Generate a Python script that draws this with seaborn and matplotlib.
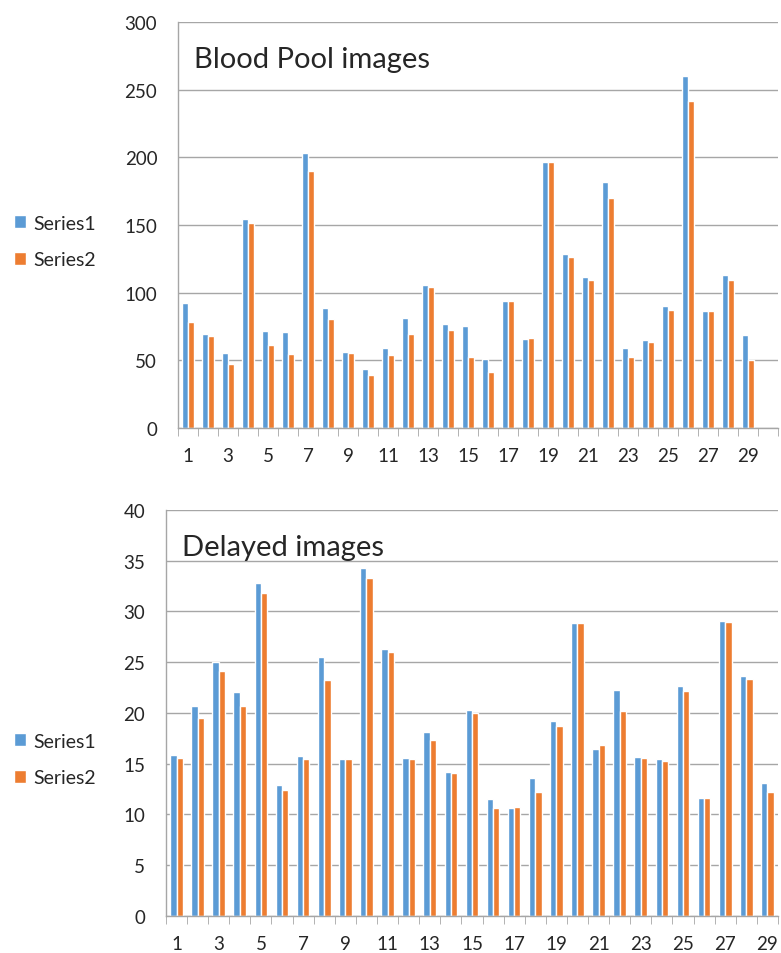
import numpy as np
import pandas as pd
import matplotlib
matplotlib.use("Agg")
import matplotlib.pyplot as plt
import seaborn as sns

sns.set_style("white")
plt.rcParams['font.family'] = ['Lato', 'DejaVu Sans']

# Blood Pool images (30 slots, last one empty)
blood_cats = list(range(1, 31))
blood_s1 = [92.2, 69.8, 55.2, 154.5, 71.5, 70.7, 203.4, 88.7, 56.2, 43.4,
            59.2, 81.6, 105.7, 76.9, 75.2, 51.0, 93.7, 65.8, 196.2, 128.9,
            111.4, 181.9, 59.2, 64.8, 90.5, 260.3, 86.5, 112.9, 68.8]
blood_s2 = [78.6, 68.0, 47.3, 151.6, 61.6, 54.5, 190.0, 80.8, 55.5, 39.2,
            53.7, 69.8, 104.3, 72.2, 52.7, 41.7, 93.7, 66.5, 196.2, 126.4,
            109.7, 169.8, 52.3, 63.3, 87.3, 241.3, 86.5, 109.7, 50.3]

# Delayed images (29 slots)
delayed_cats = list(range(1, 30))
delayed_s1 = [15.9, 20.7, 25.0, 22.1, 32.8, 12.9, 15.8, 25.5, 15.5, 34.3,
              26.3, 15.6, 18.1, 14.2, 20.3, 11.5, 10.6, 13.6, 19.2, 28.9,
              16.5, 22.3, 15.7, 15.5, 22.7, 11.6, 29.1, 23.6, 13.1]
delayed_s2 = [15.6, 19.5, 24.1, 20.7, 31.8, 12.4, 15.5, 23.2, 15.5, 33.3,
              26.0, 15.5, 17.3, 14.1, 20.0, 10.6, 10.7, 12.2, 18.7, 28.9,
              16.8, 20.2, 15.6, 15.3, 22.2, 11.6, 29.0, 23.3, 12.2]

colors = {"Series1": "#5B9BD5", "Series2": "#ED7D31"}
grid_c = "#A6A6A6"


def long_df(cats, s1, s2):
    n = len(s1)
    return pd.DataFrame({
        "cat": [str(c) for c in cats[:n]] * 2,
        "value": s1 + s2,
        "series": ["Series1"] * n + ["Series2"] * n,
    })


def draw(ax, cats, s1, s2, ymax, ystep, title, leg_y):
    df = long_df(cats, s1, s2)
    order = [str(c) for c in cats]
    sns.barplot(data=df, x="cat", y="value", hue="series", order=order,
                palette=colors, width=0.6, saturation=1, ax=ax, legend=True)
    ncat = len(cats)
    ax.set_xlim(-0.5, ncat - 0.5)
    ax.set_ylim(0, ymax)
    ax.set_yticks(np.arange(0, ymax + 1, ystep))
    ax.yaxis.grid(True, color=grid_c, lw=1)
    ax.set_axisbelow(True)
    ax.set_xticks(range(0, 29, 2))
    ax.set_xticklabels([str(c) for c in range(1, 30, 2)])
    ax.set_xticks(np.arange(-0.5, ncat, 1), minor=True)
    ax.tick_params(axis="x", which="major", length=0, labelsize=13.5, pad=14)
    ax.tick_params(axis="x", which="minor", length=6, color=grid_c,
                   direction="out", bottom=True)
    ax.tick_params(axis="y", length=0, labelsize=13.5, pad=15)
    for s in ["top", "right"]:
        ax.spines[s].set_visible(False)
    for s in ["left", "bottom"]:
        ax.spines[s].set_color(grid_c)
        ax.spines[s].set_linewidth(1)
    ax.set_xlabel("")
    ax.set_ylabel("")
    ax.text(0.026, 0.91, title, transform=ax.transAxes, fontsize=21,
            ha="left", va="center")
    h, l = ax.get_legend_handles_labels()
    ax.legend(h, l, loc="center left", bbox_to_anchor=(0.0, leg_y),
              bbox_transform=ax.figure.transFigure, frameon=False,
              fontsize=14, handlelength=0.65, handleheight=0.65,
              handletextpad=0.35, labelspacing=1.0, borderaxespad=0.3)


fig = plt.figure(figsize=(7.81, 9.54), dpi=100)
ax1 = fig.add_axes([0.228, 0.5503, 0.768, 0.4256])
ax2 = fig.add_axes([0.2125, 0.0388, 0.7836, 0.4256])

draw(ax1, blood_cats, blood_s1, blood_s2, 300, 50, "Blood Pool images", 0.746)
draw(ax2, delayed_cats, delayed_s1, delayed_s2, 40, 5, "Delayed images", 0.203)

fig.savefig("out.png", dpi=100)
